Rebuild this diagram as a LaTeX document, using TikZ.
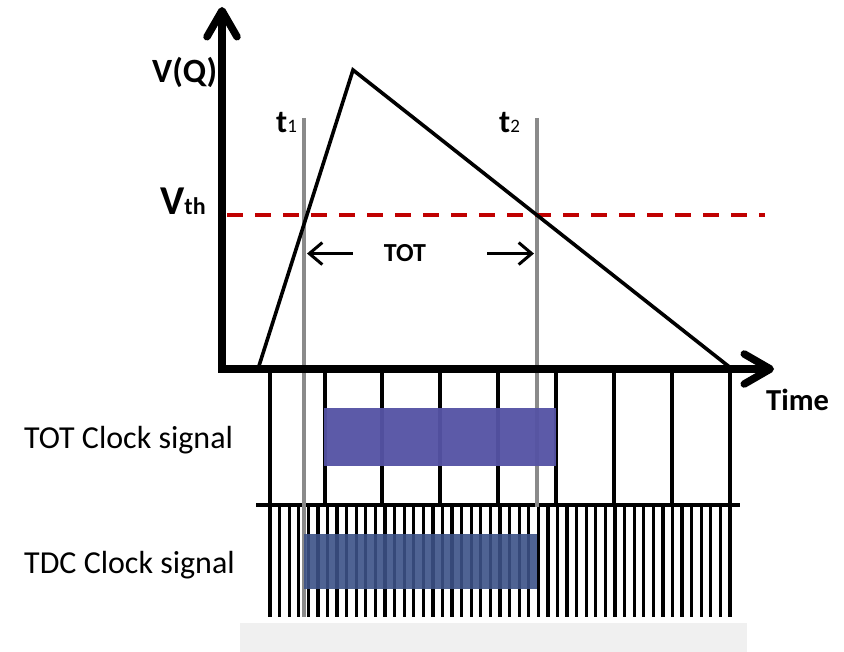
\documentclass[tikz,border=0pt]{standalone}
\usepackage{fontspec}
\setmainfont{Carlito}
\usepackage{tikz}
\usetikzlibrary{arrows.meta,positioning}
\definecolor{tot-blue}{HTML}{5553A4}
\definecolor{tdc-blue}{HTML}{3C5287}
\definecolor{vth-red}{HTML}{C00000}
\definecolor{mark-gray}{HTML}{8A8A8A}
\definecolor{foot-gray}{HTML}{F0F0F0}

\begin{document}
\begin{tikzpicture}[x=1pt, y=-1pt,
    axis/.style={line width=7.5pt, -{Straight Barb[length=26pt, width=30pt, round]}},
    clockline/.style={line width=3.2pt},
    timemark/.style={line width=4.5pt, mark-gray},
    txt/.style={inner sep=0pt, anchor=base west},
    totarrow/.style={line width=3pt, -{Straight Barb[length=13pt, width=22pt]}}]
    \useasboundingbox (0,0) rectangle (844,652);
    \fill[foot-gray] (240,623) rectangle (747,652);

    % clock signals
    \foreach \x in {270,325,382,440,498,556,614,672,730}
        \draw[clockline] (\x,369) -- (\x,505);
    \foreach \i in {0,...,48}
        \draw[clockline] ({270+\i*9.583},505) -- ({270+\i*9.583},617);
    \draw[line width=4.5pt] (256,505) -- (740,505);

    % t1 and t2
    \coordinate (t1top) at (304,118);
    \coordinate (t2top) at (537,118);
    \draw[timemark] (t1top) -- ++(0,499);
    \draw[timemark] (t2top) -- ++(0,389);

    \fill[tot-blue, fill opacity=0.96] (324,408) rectangle (556,466);
    \fill[tdc-blue, fill opacity=0.9] (304,534) rectangle (537,589);

    % threshold and pulse
    \draw[vth-red, line width=4pt, dash pattern=on 16pt off 12pt] (227,215) -- (765,215);
    \coordinate (start) at (258,369);
    \coordinate (peak) at (353,70);
    \coordinate (end) at (732,369);
    \draw[line width=3.6pt] (start) -- (peak) -- (end);

    % labels
    \node[txt, font=\bfseries\fontsize{34}{34}\selectfont] (vq) at (152,83) {V(Q)};
    \node[txt, font=\bfseries] (vth) at (160,215) {\fontsize{41}{41}\selectfont V\fontsize{24}{24}\selectfont th};
    \node[txt, font=\bfseries\fontsize{32}{32}\selectfont] (tone) at (276,133) {t{\mdseries\fontsize{19}{19}\selectfont 1}};
    \node[txt, font=\bfseries\fontsize{32}{32}\selectfont] (ttwo) at (499,133) {t{\mdseries\fontsize{19}{19}\selectfont 2}};
    \node[inner sep=0pt, anchor=base, font=\bfseries\fontsize{26}{26}\selectfont] (tot) at (405,262) {TOT};
    \node[txt, font=\bfseries\fontsize{30.5}{30.5}\selectfont] (time) at (766,411) {Time};
    \node[txt, font=\fontsize{32}{32}\selectfont] (totclk) at (24,448) {TOT Clock signal};
    \node[txt, font=\fontsize{32}{32}\selectfont] (tdcclk) at (24,573) {TDC Clock signal};

    \draw[totarrow] ([xshift=-31pt]tot.west) -- ([xshift=3pt]t1top |- tot.west);
    \draw[totarrow] ([xshift=61pt]tot.east) -- ([xshift=-3pt]t2top |- tot.east);

    % axes
    \coordinate (origin) at (222,369);
    \coordinate (ytip) at (222,7);
    \coordinate (xtip) at (774,369);
    \draw[axis] ([yshift=-4pt]origin) -- (ytip);
    \draw[axis] ([xshift=-4pt]origin) -- (xtip);
\end{tikzpicture}
\end{document}
